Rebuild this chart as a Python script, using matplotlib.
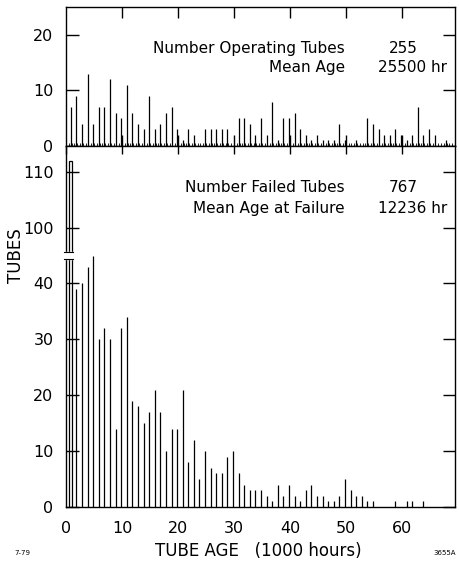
import numpy as np
import matplotlib
matplotlib.use('Agg')
import matplotlib.pyplot as plt

# Tube counts per 1000-hour age bin
operating = [7, 9, 4, 13, 4, 7, 7, 12, 6, 5,
             11, 6, 4, 3, 9, 3, 4, 6, 7, 3,
             1, 3, 2, 0, 3, 3, 3, 3, 3, 0,
             5, 5, 4, 2, 5, 2, 8, 1, 5, 5,
             6, 3, 2, 1, 2, 1, 1, 1, 4, 1,
             0, 1, 0, 5, 4, 3, 2, 2, 3, 2,
             1, 2, 7, 2, 3, 2, 0, 1]
failed = [112, 39, 40, 43, 45, 30, 32, 30, 14, 32,
          34, 19, 18, 15, 17, 21, 17, 10, 14, 14,
          21, 8, 12, 5, 10, 7, 6, 6, 9, 10,
          6, 4, 3, 3, 3, 2, 1, 4, 2, 4,
          2, 1, 3, 4, 2, 2, 1, 1, 2, 5,
          3, 2, 2, 1, 1, 0, 0, 0, 1, 0,
          1, 1, 0, 1]

op_text = ["Number Operating Tubes", "Mean Age"]
op_vals = ["255", "25500 hr"]
fail_text = ["Number Failed Tubes", "Mean Age at Failure"]
fail_vals = ["767", "12236 hr"]

x_ticks = [0, 10, 20, 30, 40, 50, 60]
fail_ticks = [0, 10, 20, 30, 40, 100, 110]

brk = 45    # axis break on the failed panel
jump = 50   # 100 on the upper part sits where 50 would be


def squash(v):
    v = np.asarray(v, dtype=float)
    return np.where(v > brk, v - jump, v)


plt.rcParams['font.family'] = 'DejaVu Sans'
fig = plt.figure(figsize=(4.59, 5.64), dpi=100)
W, H = 459, 564
left, right = 66, 455
ax_top = fig.add_axes([left / W, (H - 146) / H, (right - left) / W, 139 / H])
ax_bot = fig.add_axes([left / W, (H - 507) / H, (right - left) / W, 361 / H])

xmax = 69.5
op_x = np.arange(len(operating)) + 0.85
fail_x = np.arange(len(failed)) + 0.85

# upper panel: operating tubes
ax_top.vlines(op_x, 0, operating, color='black', lw=0.9)
ax_top.set_xlim(0, xmax)
ax_top.set_ylim(0, 25)
ax_top.set_yticks([0, 10, 20])
ax_top.set_xticks(x_ticks[1:])
ax_top.set_xticklabels([])
ax_top.tick_params(axis='x', top=True, bottom=True, direction='in', length=8, width=1)
ax_top.tick_params(axis='y', left=True, right=True, direction='in', length=9, width=1,
                   labelsize=11.5, pad=9)
ax_top.set_xticks(np.arange(0.5, xmax, 0.5), minor=True)
ax_top.tick_params(axis='x', which='minor', top=False, bottom=True, direction='in',
                   length=2, width=0.6)

# lower panel: failed tubes with a broken axis
fy = squash(failed)
ax_bot.vlines(fail_x[1:], 0, fy[1:], color='black', lw=0.9)
ax_bot.bar(fail_x[0], fy[0], width=0.5, facecolor='white', edgecolor='black', lw=0.9)
ax_bot.set_xlim(0, xmax)
ax_bot.set_ylim(0, squash(114.6))
ax_bot.set_yticks(squash(fail_ticks))
ax_bot.set_yticklabels([str(t) for t in fail_ticks])
ax_bot.set_xticks(x_ticks)
ax_bot.set_xticklabels([str(t) for t in x_ticks])
ax_bot.tick_params(axis='x', top=True, bottom=False, direction='in', length=6, width=1,
                   labelsize=11.5, pad=10)
ax_bot.tick_params(axis='y', left=True, right=True, direction='in', length=9, width=1,
                   labelsize=11.5, pad=9)

# break marks on the spine and the tall bar
x0 = fail_x[0]
ax_bot.fill_between([-0.4, x0 + 0.45], brk - 0.7, brk + 0.7, color='white',
                    zorder=5, clip_on=False)
for yy in (brk - 0.7, brk + 0.7):
    ax_bot.plot([-0.35, x0 + 0.35], [yy, yy], color='black', lw=0.8, zorder=6,
                clip_on=False)

for ax in (ax_top, ax_bot):
    for s in ax.spines.values():
        s.set_linewidth(1.0)

# annotations
fs = 11
for i, (lab, val) in enumerate(zip(op_text, op_vals)):
    yb = 1 - (53 + 19 * i) / H
    fig.text(345 / W, yb, lab, ha='right', va='baseline', fontsize=fs)
    xr = 418 if i == 0 else 447
    fig.text(xr / W, yb, val, ha='right', va='baseline', fontsize=fs)
for i, (lab, val) in enumerate(zip(fail_text, fail_vals)):
    yb = 1 - (192 + 21 * i) / H
    fig.text(345 / W, yb, lab, ha='right', va='baseline', fontsize=fs)
    xr = 418 if i == 0 else 447
    fig.text(xr / W, yb, val, ha='right', va='baseline', fontsize=fs)

fig.text(16 / W, 1 - 256 / H, "TUBES", rotation=90, ha='center', va='center', fontsize=12)
fig.text(258 / W, 1 - 551 / H, "TUBE AGE   (1000 hours)", ha='center', va='center',
         fontsize=12)
fig.text(22 / W, 1 - 553 / H, "7-79", ha='center', va='center', fontsize=5)
fig.text(456 / W, 1 - 553 / H, "3655A", ha='right', va='center', fontsize=5)

fig.savefig('out.png', dpi=100)
